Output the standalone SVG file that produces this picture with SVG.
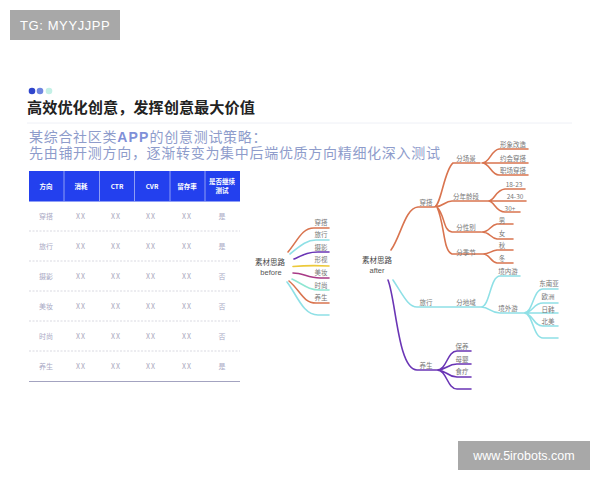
<svg xmlns="http://www.w3.org/2000/svg" width="600" height="480" viewBox="0 0 600 480">
<style>
text{font-family:"Noto Sans CJK SC","Liberation Sans",sans-serif}
.c{fill:none;stroke-width:1.6;stroke-linecap:round}
.o{stroke:#d9744f}.t{stroke:#8fe0e6}.p{stroke:#6a35b5}
.m{font-size:6.5px;fill:#777;text-anchor:middle}
.h{font-size:6.5px;fill:#fff;font-weight:700;text-anchor:middle}
.d{font-size:7px;fill:#a9a9c4;text-anchor:middle}
.x{font-size:7px;fill:#a9a9bc;text-anchor:middle;letter-spacing:1px}
.l{stroke:#c8c8d4;stroke-width:.7;stroke-dasharray:2 1.5}
</style>
<rect width="600" height="480" fill="#fff"/>
<g id="tag"><rect x="10" y="10" width="110" height="30" fill="#a8a8a8"/><text x="20" y="30" font-size="13" fill="#fff" style="font-family:'Liberation Sans',sans-serif" letter-spacing=".6">TG: MYYJJPP</text></g>
<g id="wm"><rect x="458" y="441" width="132" height="29" fill="#a8a8a8"/><text x="524" y="460" font-size="12.5" fill="#fff" text-anchor="middle" style="font-family:'Liberation Sans',sans-serif">www.5irobots.com</text></g>
<g id="title">
<circle cx="32" cy="91" r="3.3" fill="#2f45cc"/><circle cx="40" cy="91" r="3.3" fill="#6f86e0"/><circle cx="49" cy="91" r="3.3" fill="#c4f0e6"/>
<text x="27" y="113" font-size="15.2" font-weight="700" fill="#222">高效优化创意，发挥创意最大价值</text>
<line x1="27" y1="123" x2="572" y2="123" stroke="#eef0f6"/>
<text x="29" y="142" font-size="14" fill="#8e9ccb" letter-spacing=".7">某综合社区类<tspan font-weight="700" fill="#7f90d8" style="font-family:'Liberation Sans'" letter-spacing="1.2">APP</tspan>的创意测试策略：</text>
<text x="29" y="158" font-size="14" fill="#8e9ccb" letter-spacing=".7">先由铺开测方向，逐渐转变为集中后端优质方向精细化深入测试</text>
</g>
<g id="table">
<rect x="29" y="171" width="211" height="30.500" fill="#2340ee"/>
<g stroke="#a9b6f5" stroke-width=".8"><line x1="64" y1="171" x2="64" y2="201"/><line x1="99.500" y1="171" x2="99.500" y2="201"/><line x1="134.500" y1="171" x2="134.500" y2="201"/><line x1="170" y1="171" x2="170" y2="201"/><line x1="205" y1="171" x2="205" y2="201"/></g>
<text class="h" x="46" y="188.500">方向</text><text class="h" x="81" y="188.500">消耗</text><text class="h" x="117" y="188.500">CTR</text><text class="h" x="152" y="188.500">CVR</text><text class="h" x="187" y="188.500">留存率</text><text class="h" x="222" y="184">是否继续</text><text class="h" x="222" y="192.500">测试</text>
<line class="l" x1="29" y1="231" x2="240" y2="231"/><line class="l" x1="29" y1="261" x2="240" y2="261"/><line class="l" x1="29" y1="291" x2="240" y2="291"/><line class="l" x1="29" y1="321" x2="240" y2="321"/><line class="l" x1="29" y1="351" x2="240" y2="351"/>
<line x1="29" y1="381.500" x2="240" y2="381.500" stroke="#a3a3c0" stroke-width="1"/>
<g><text class="d" x="46" y="218.500">穿搭</text><text class="x" x="81" y="218.500">XX</text><text class="x" x="116" y="218.500">XX</text><text class="x" x="151" y="218.500">XX</text><text class="x" x="187" y="218.500">XX</text><text class="d" x="222" y="218.500">是</text></g>
<g><text class="d" x="46" y="248.500">旅行</text><text class="x" x="81" y="248.500">XX</text><text class="x" x="116" y="248.500">XX</text><text class="x" x="151" y="248.500">XX</text><text class="x" x="187" y="248.500">XX</text><text class="d" x="222" y="248.500">是</text></g>
<g><text class="d" x="46" y="278.500">摄影</text><text class="x" x="81" y="278.500">XX</text><text class="x" x="116" y="278.500">XX</text><text class="x" x="151" y="278.500">XX</text><text class="x" x="187" y="278.500">XX</text><text class="d" x="222" y="278.500">否</text></g>
<g><text class="d" x="46" y="308.500">美妆</text><text class="x" x="81" y="308.500">XX</text><text class="x" x="116" y="308.500">XX</text><text class="x" x="151" y="308.500">XX</text><text class="x" x="187" y="308.500">XX</text><text class="d" x="222" y="308.500">否</text></g>
<g><text class="d" x="46" y="338.500">时尚</text><text class="x" x="81" y="338.500">XX</text><text class="x" x="116" y="338.500">XX</text><text class="x" x="151" y="338.500">XX</text><text class="x" x="187" y="338.500">XX</text><text class="d" x="222" y="338.500">否</text></g>
<g><text class="d" x="46" y="368.500">养生</text><text class="x" x="81" y="368.500">XX</text><text class="x" x="116" y="368.500">XX</text><text class="x" x="151" y="368.500">XX</text><text class="x" x="187" y="368.500">XX</text><text class="d" x="222" y="368.500">是</text></g>
</g>
<g id="connectors">
<path class="c o" d="M288 252C298 240 302 228 314 228H329"/>
<path class="c t" d="M290 254C298 248 305 240 316 240H329"/>
<path class="c p" d="M294 259C303 255 308 252 318 252H329"/>
<path class="c" stroke="#ecc93a" d="M293 266.500Q310 265 329 266"/>
<path class="c" stroke="#a83a86" d="M293 273C303 273 308 278 320 278H329"/>
<path class="c" stroke="#8fe6d2" d="M292 279C303 284 308 290 320 290H329"/>
<path class="c o" d="M289 281C300 290 303 303 316 303H329"/>
<path class="c t" d="M287 282C297 295 303 315 318 315H329"/>

<path class="c o" d="M391 250C401 236 405 208 418 207H434C441 207 444 170 453 163H480M482 163C490 163 491 150 499 149H528M482 163H528M482 163C490 163 491 175 499 175H528M482 201H526M488 201C495 201 495 190 505 189H525M488 201C495 201 495 212 505 212H520M434 207C444 207 444 201 452 201H488M437 207C445 215 443 231 452 232H481M482 232C490 232 490 225 497 224H513M482 232C490 232 490 238 497 239H513M437 207C445 225 443 251 452 254H483M483 254C490 254 490 251 497 250H513M483 254C490 254 490 262 497 263H513"/>
<path class="c t" d="M393 280C403 295 408 307 417 307H481C490 307 490 276 500 276H520M481 307C490 307 490 313 500 313H524C533 313 533 289 543 289H558M524 313C533 313 533 303 543 303H558M524 313H558M524 313C533 313 533 326 543 326H558M524 313C533 313 533 338 543 338H558"/>
<path class="c p" d="M388 280C396 300 398 370 417 370H437C447 370 447 351 457 351H471M437 370C447 370 447 364 457 364H471M437 370C447 370 447 377 457 377H471M437 370C447 370 447 389 457 389H471"/>
</g>
<g id="before"><text x="270" y="265" font-size="7.500" fill="#444" text-anchor="middle">素材思路</text><text x="271" y="275" font-size="7.500" fill="#555" text-anchor="middle" style="font-family:'Liberation Sans'">before</text>
<text class="m" x="321" y="225">穿搭</text><text class="m" x="321" y="237">旅行</text><text class="m" x="321" y="250">摄影</text><text class="m" x="321" y="262">形视</text><text class="m" x="321" y="275">美妆</text><text class="m" x="321" y="288">时尚</text><text class="m" x="321" y="300">养生</text></g>
<g id="after"><text x="377" y="263" font-size="7.500" fill="#444" text-anchor="middle">素材思路</text><text x="377" y="273" font-size="7.500" fill="#555" text-anchor="middle" style="font-family:'Liberation Sans'">after</text>
<text class="m" x="426" y="205">穿搭</text><text class="m" x="466" y="161">分场景</text><text class="m" x="466" y="199">分年龄段</text><text class="m" x="466" y="230">分性别</text><text class="m" x="466" y="255">分季节</text>
<text class="m" x="513" y="147">形象改造</text><text class="m" x="513" y="161">约会穿搭</text><text class="m" x="513" y="173">职场穿搭</text><text class="m" x="514" y="187">18-23</text><text class="m" x="515" y="199">24-30</text><text class="m" x="510" y="211">30+</text><text class="m" x="502" y="223">男</text><text class="m" x="502" y="236">女</text><text class="m" x="502" y="248">秋</text><text class="m" x="502" y="261">冬</text>
<text class="m" x="426" y="305">旅行</text><text class="m" x="466" y="305">分地域</text><text class="m" x="508" y="274">境内游</text><text class="m" x="508" y="311">境外游</text><text class="m" x="549" y="286">东南亚</text><text class="m" x="548" y="299">欧洲</text><text class="m" x="548" y="312">日韩</text><text class="m" x="548" y="324">北美</text>
<text class="m" x="426" y="368">养生</text><text class="m" x="462" y="349">保养</text><text class="m" x="462" y="362">母婴</text><text class="m" x="462" y="374">食疗</text></g>
</svg>
